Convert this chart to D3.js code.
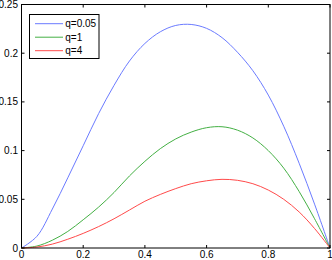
<!DOCTYPE html>
<head>
<meta charset="utf-8">
<style>
  body { margin: 0; background: #fff; }
  text { font-family: 'Liberation Sans', Arial, sans-serif; font-size: 10px; fill: #000; }
  .curve { fill: none; stroke-width: 1; }
</style>
<title>q curves</title>
</head>
<body>
<svg width="332" height="260"></svg>
<script src="https://cdn.jsdelivr.net/npm/d3@7"></script>
<script>

// values
var xs = [0, 0.05, 0.1, 0.15, 0.2, 0.25, 0.3, 0.35, 0.4, 0.45, 0.5,
          0.55, 0.6, 0.65, 0.7, 0.75, 0.8, 0.85, 0.9, 0.95, 1];
var q005 = [0, 0.012, 0.040, 0.072, 0.105, 0.138, 0.167, 0.192, 0.210, 0.222, 0.2285,
            0.2295, 0.2255, 0.216, 0.201, 0.182, 0.157, 0.125, 0.087, 0.045, 0];
var q1   = [0, 0.002, 0.008, 0.017, 0.029, 0.042, 0.057, 0.074, 0.089, 0.102, 0.112,
            0.119, 0.1235, 0.1245, 0.121, 0.113, 0.100, 0.082, 0.058, 0.030, 0];
var q4   = [0, 0.001, 0.004, 0.009, 0.015, 0.022, 0.030, 0.039, 0.048, 0.055, 0.061,
            0.066, 0.069, 0.0705, 0.0695, 0.066, 0.0595, 0.050, 0.037, 0.020, 0];
var names = ["q=0.05", "q=1", "q=4"];
var colors = ["#6b7bff", "#44b044", "#ff4a4a"];
var xTicks = [0, 0.2, 0.4, 0.6, 0.8, 1];
var yTicks = [0, 0.05, 0.1, 0.15, 0.2, 0.25];

var svg = d3.select("svg"),
    mLeft = 21.5, mRight = 330, mTop = 4.5, mBottom = 248;

var x = d3.scaleLinear().domain([0, 1]).range([mLeft, mRight]),
    y = d3.scaleLinear().domain([0, 0.25]).range([mBottom, mTop]);

var series = [q005, q1, q4];

var line = d3.line()
    .x(function(d, i) { return x(xs[i]); })
    .y(function(d) { return y(d); })
    .curve(d3.curveCatmullRom.alpha(0.5));

series.forEach(function(s, i) {
  svg.append("path")
      .attr("class", "curve")
      .attr("d", line(s))
      .attr("stroke", colors[i]);
});

// box frame
svg.append("rect")
    .attr("x", mLeft).attr("y", mTop)
    .attr("width", mRight - mLeft).attr("height", mBottom - mTop)
    .attr("fill", "none").attr("stroke", "#000");

// ticks inside, on all four sides
var tl = 3;
xTicks.forEach(function(t) {
  svg.append("line").attr("x1", x(t)).attr("x2", x(t)).attr("y1", mBottom).attr("y2", mBottom - tl).attr("stroke", "#000");
  svg.append("line").attr("x1", x(t)).attr("x2", x(t)).attr("y1", mTop).attr("y2", mTop + tl).attr("stroke", "#000");
  svg.append("text").attr("x", x(t)).attr("y", 258.3).attr("text-anchor", "middle").text(d3.format("")(t));
});
yTicks.forEach(function(t) {
  svg.append("line").attr("x1", mLeft).attr("x2", mLeft + tl).attr("y1", y(t)).attr("y2", y(t)).attr("stroke", "#000");
  svg.append("line").attr("x1", mRight).attr("x2", mRight - tl).attr("y1", y(t)).attr("y2", y(t)).attr("stroke", "#000");
  svg.append("text").attr("x", 18).attr("y", y(t)).attr("dy", "0.35em").attr("text-anchor", "end").text(d3.format("")(t));
});

// legend
var lg = svg.append("g");
lg.append("rect")
    .attr("x", 29.5).attr("y", 14.5).attr("width", 69.5).attr("height", 44)
    .attr("fill", "#fff").attr("stroke", "#000");
names.forEach(function(n, i) {
  var ly = 23.7 + i * 13.5;
  lg.append("line").attr("x1", 35).attr("x2", 63).attr("y1", ly).attr("y2", ly).attr("stroke", colors[i]);
  lg.append("text").attr("x", 65.3).attr("y", ly).attr("dy", "0.35em").text(n);
});

</script>
</body>
